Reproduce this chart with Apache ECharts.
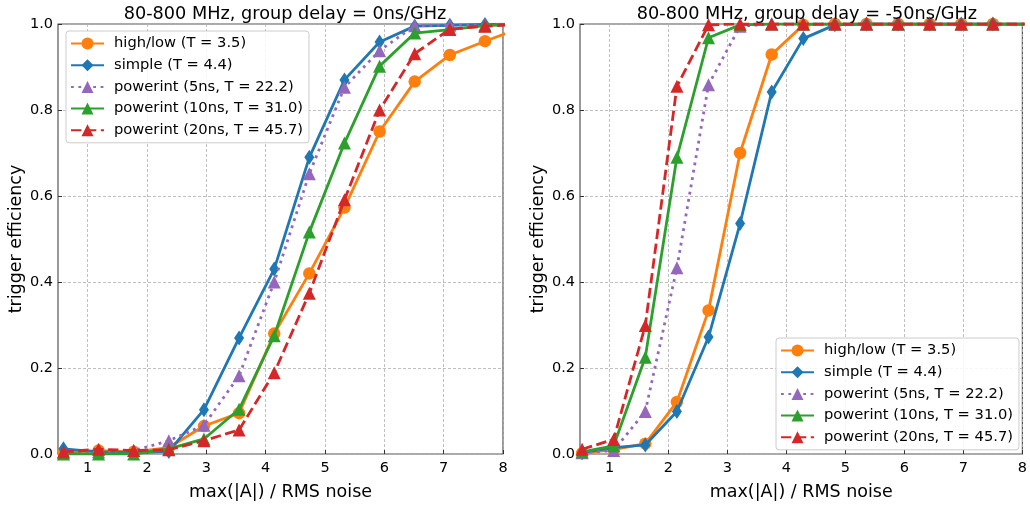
<!DOCTYPE html>
<html><head><meta charset="utf-8">
<script src="https://cdn.jsdelivr.net/npm/echarts@6/dist/echarts.min.js"></script>
<style>html,body{margin:0;padding:0;background:#fff}#c{width:1030px;height:506px}</style>
</head><body><div id="c"></div>
<script>
// x positions (max(|A|) / RMS noise)
var xLeft = [0.592,1.184,1.776,2.368,2.96,3.552,4.144,4.736,5.328,5.92,6.512,7.104,7.696,8.288];
var xRight = [0.536,1.071,1.607,2.143,2.679,3.214,3.75,4.286,4.821,5.357,5.893,6.429,6.964,7.5,8.036];

var names = ['high/low (T = 3.5)','simple (T = 4.4)','powerint (5ns, T = 22.2)','powerint (10ns, T = 31.0)','powerint (20ns, T = 45.7)'];
var titles = ['80-800 MHz, group delay = 0ns/GHz','80-800 MHz, group delay = -50ns/GHz'];
var xTicks = [1,2,3,4,5,6,7,8];
var yTicks = [0,0.2,0.4,0.6,0.8,1.0];

// left panel (0 ns/GHz)
var L_highlow = [0.003,0.008,0.005,0.015,0.065,0.095,0.28,0.42,0.573,0.75,0.866,0.928,0.96,0.99];
var L_simple  = [0.012,0.005,0.003,0.006,0.103,0.27,0.43,0.69,0.87,0.958,0.995,0.997,0.999,1.0];
var L_p5      = [0.003,0.005,0.008,0.031,0.067,0.182,0.40,0.652,0.853,0.938,0.996,0.997,0.998,1.0];
var L_p10     = [0.0,0.0,0.0,0.012,0.035,0.104,0.275,0.516,0.723,0.902,0.979,0.987,0.996,1.0];
var L_p20     = [0.005,0.011,0.008,0.01,0.031,0.056,0.189,0.374,0.591,0.8,0.931,0.988,0.995,0.999];

// right panel (-50 ns/GHz)
var R_highlow = [0.002,0.01,0.024,0.121,0.334,0.70,0.929,0.998,1,1,1,1,1,1,1];
var R_simple  = [0.003,0.015,0.021,0.099,0.272,0.536,0.842,0.966,0.998,1,1,1,1,1,1];
var R_p5      = [0.003,0.008,0.099,0.433,0.859,0.995,1,1,1,1,1,1,1,1,1];
var R_p10     = [0.005,0.019,0.225,0.69,0.968,0.998,1,1,1,1,1,1,1,1,1];
var R_p20     = [0.011,0.034,0.299,0.855,0.998,1,1,1,1,1,1,1,1,1,1];

var colors = ['#ff7f0e','#1f77b4','#9467bd','#2ca02c','#d62728'];
var symbols = ['circle','diamond','triangle','triangle','triangle'];
var symSizes = [12.5,[10,15],13,13,13];
var lineTypes = ['solid','solid',[2.8,4.6],'solid',[10.4,4.5]];
var FONT = 'DejaVu Sans';

function pairs(xs, ys){ return xs.map(function(x,i){return [x, ys[i]];}); }

var leftSets = [L_highlow,L_simple,L_p5,L_p10,L_p20];
var rightSets = [R_highlow,R_simple,R_p5,R_p10,R_p20];

var series = [];
[leftSets, rightSets].forEach(function(sets, gi){
  var xs = gi === 0 ? xLeft : xRight;
  sets.forEach(function(ys, k){
    series.push({
      type:'line', name:names[k], xAxisIndex:gi, yAxisIndex:gi,
      data: pairs(xs, ys), symbol:symbols[k], symbolSize:symSizes[k],
      clip:true, z: 2+k, animation:false,
      itemStyle:{color:colors[k], borderWidth:0},
      lineStyle:{color:colors[k], width:2.8, type:lineTypes[k], cap:'butt'}
    });
  });
});

function xAxis(gi){
  return {type:'value', gridIndex:gi, min:0.5, max:8,
    name:'max(|A|) / RMS noise', nameLocation:'middle', nameGap:29,
    nameTextStyle:{fontFamily:FONT,fontSize:17.5,color:'#000'},
    axisLine:{show:false},
    axisTick:{show:true, inside:true, length:4, customValues:xTicks, lineStyle:{color:'#333'}},
    axisLabel:{customValues:xTicks, fontFamily:FONT, fontSize:14.5, color:'#000', margin:7},
    splitLine:{show:true, lineStyle:{color:'#b0b0b0', width:0.8, type:[3,2]}}
  };
}
function yAxis(gi){
  return {type:'value', gridIndex:gi, min:0, max:1, interval:0.2,
    name:'trigger efficiency', nameLocation:'middle', nameGap:33,
    nameTextStyle:{fontFamily:FONT,fontSize:17.5,color:'#000'},
    axisLine:{show:false},
    axisTick:{show:true, inside:true, length:4, lineStyle:{color:'#333'}},
    axisLabel:{fontFamily:FONT, fontSize:14.5, color:'#000', margin:5, formatter:function(v){return v.toFixed(1);}},
    splitLine:{show:true, lineStyle:{color:'#b0b0b0', width:0.8, type:[3,2]}}
  };
}

function legend(gi, pos){
  return Object.assign({
    data: names.map(function(n){return n;}),
    orient:'vertical', itemWidth:33, itemHeight:15, itemGap:6.7,
    padding:[5,6,5,4],
    backgroundColor:'rgba(255,255,255,0.85)', borderColor:'#cccccc', borderWidth:1, borderRadius:3,
    textStyle:{fontFamily:FONT, fontSize:14.7, color:'#000', padding:[0,0,0,5]},
    selectedMode:false
  }, pos);
}

var chart = echarts.init(document.getElementById('c'), null, {renderer:'canvas'});
chart.setOption({
  animation:false,
  backgroundColor:'#fff',
  title:[
    {text:titles[0], left:280, top:0, textAlign:'center', textStyle:{fontFamily:FONT,fontSize:17.7,fontWeight:'normal',color:'#000'}},
    {text:titles[1], left:802, top:0, textAlign:'center', textStyle:{fontFamily:FONT,fontSize:17.7,fontWeight:'normal',color:'#000'}}
  ],
  grid:[
    {left:58, top:24, width:445, height:433, show:true, borderColor:'#555', borderWidth:1.2, backgroundColor:'transparent'},
    {left:580, top:24, width:444, height:433, show:true, borderColor:'#555', borderWidth:1.2, backgroundColor:'transparent'}
  ],
  xAxis:[xAxis(0), xAxis(1)],
  yAxis:[yAxis(0), yAxis(1)],
  legend:[
    legend(0,{left:66, top:31}),
    legend(1,{left:776, top:338})
  ],
  series: series
});
</script></body></html>
